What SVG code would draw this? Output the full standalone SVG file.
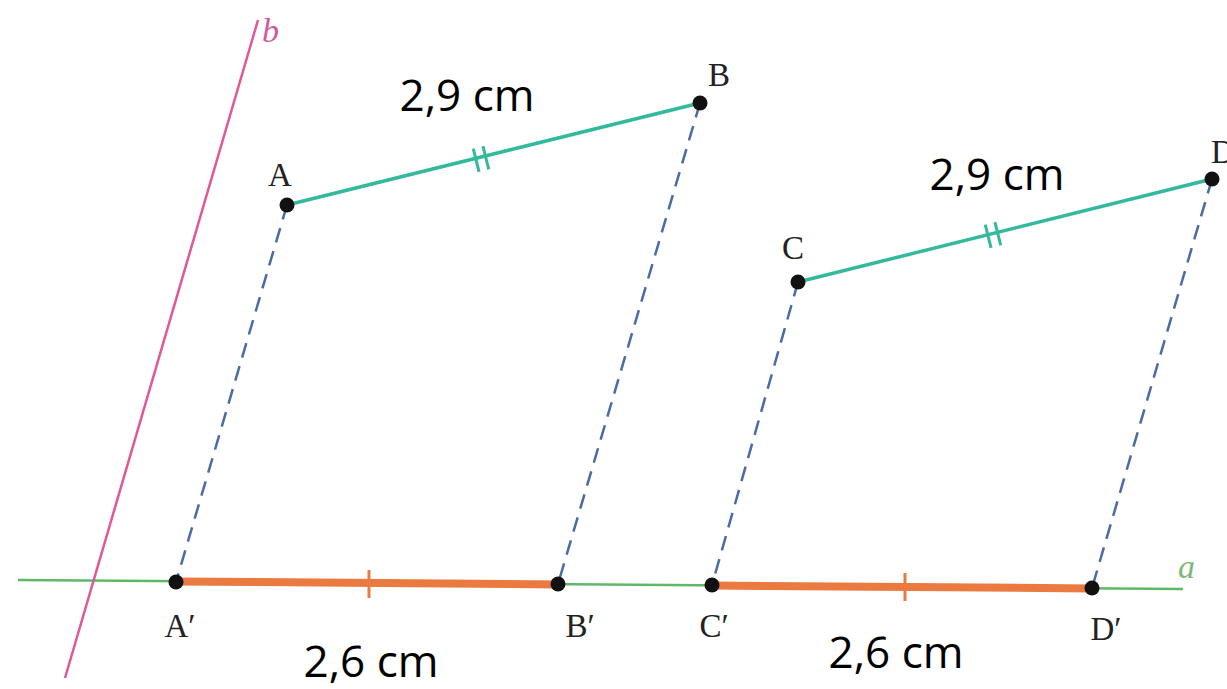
<svg xmlns="http://www.w3.org/2000/svg" width="1227" height="689" viewBox="0 0 1227 689">
<style>
.dash{stroke:#4a6aa8;stroke-width:2.5;stroke-dasharray:15 9;fill:none}
.teal{stroke:#33b99b;stroke-width:3.5;fill:none}
.orange{stroke:#ea7a40;stroke-width:8;fill:none}
.otick{stroke:#ea7a40;stroke-width:3;fill:none}
.ttick{stroke:#33b99b;stroke-width:3;fill:none}
.pt{fill:#111}
.lbl{font-family:"Liberation Serif",serif;font-size:33px;fill:#222}
.meas{font-family:"Open Sans","Liberation Sans",sans-serif;font-size:44px;fill:#000}
.it{font-family:"Liberation Serif",serif;font-style:italic;font-size:34px}
</style>
<rect width="1227" height="689" fill="#fff"/>
<g id="line-a">
<line x1="18" y1="580" x2="1183" y2="589" stroke="#5fb86a" stroke-width="2.5"/>
<text class="it" x="1178" y="578" fill="#7cb876">a</text>
</g>
<g id="line-b">
<line x1="258" y1="20" x2="65" y2="678" stroke="#e0579a" stroke-width="2.5"/>
<text class="it" x="262" y="42" fill="#d4589a">b</text>
</g>
<g id="connectors">
<line class="dash" x1="287" y1="205" x2="176" y2="582"/>
<line class="dash" x1="700" y1="103" x2="558" y2="584"/>
<line class="dash" x1="798" y1="282" x2="712" y2="585"/>
<line class="dash" x1="1212" y1="179" x2="1092" y2="588"/>
<line class="teal" x1="287" y1="205" x2="700" y2="103"/>
<line class="teal" x1="798" y1="282" x2="1212" y2="179"/>
<g transform="translate(481 159) rotate(-13.9)">
<line class="ttick" x1="-5" y1="-12" x2="-5" y2="12"/>
<line class="ttick" x1="5" y1="-12" x2="5" y2="12"/>
</g>
<g transform="translate(993 235) rotate(-14)">
<line class="ttick" x1="-5" y1="-12" x2="-5" y2="12"/>
<line class="ttick" x1="5" y1="-12" x2="5" y2="12"/>
</g>
<line class="orange" x1="176" y1="581.5" x2="558" y2="584.4"/>
<line class="orange" x1="712" y1="585.5" x2="1092" y2="588.4"/>
<line class="otick" x1="369" y1="570" x2="369" y2="598"/>
<line class="otick" x1="905" y1="573" x2="905" y2="601"/>
</g>
<g id="A"><circle class="pt" cx="287" cy="205" r="7.5"/><text class="lbl" x="280" y="186" text-anchor="middle">A</text></g>
<g id="B"><circle class="pt" cx="700" cy="103" r="7.5"/><text class="lbl" x="719" y="86" text-anchor="middle">B</text></g>
<g id="C"><circle class="pt" cx="798" cy="282" r="7.5"/><text class="lbl" x="793" y="259" text-anchor="middle">C</text></g>
<g id="D"><circle class="pt" cx="1212" cy="179" r="7.5"/><text class="lbl" x="1211" y="163">D</text></g>
<g id="A-prime"><circle class="pt" cx="176" cy="582" r="7.5"/><text class="lbl" x="180" y="637" text-anchor="middle">A′</text></g>
<g id="B-prime"><circle class="pt" cx="558" cy="584" r="7.5"/><text class="lbl" x="580" y="637" text-anchor="middle">B′</text></g>
<g id="C-prime"><circle class="pt" cx="712" cy="585" r="7.5"/><text class="lbl" x="714" y="637" text-anchor="middle">C′</text></g>
<g id="D-prime"><circle class="pt" cx="1092" cy="588" r="7.5"/><text class="lbl" x="1106" y="640" text-anchor="middle">D′</text></g>
<g id="labels">
<text class="meas" x="467" y="111" text-anchor="middle">2,9 cm</text>
<text class="meas" x="997" y="190" text-anchor="middle">2,9 cm</text>
<text class="meas" x="371" y="677" text-anchor="middle">2,6 cm</text>
<text class="meas" x="896" y="668" text-anchor="middle">2,6 cm</text>
</g>
</svg>
